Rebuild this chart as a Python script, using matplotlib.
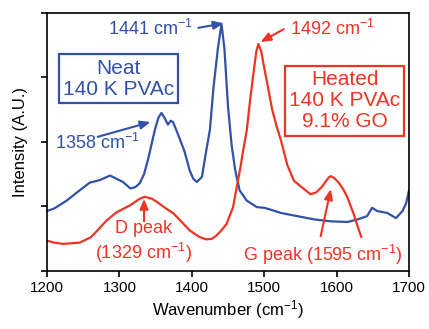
import matplotlib
matplotlib.use("Agg")
import matplotlib.pyplot as plt
import numpy as np

plt.rcParams['font.family'] = ['Liberation Sans', 'DejaVu Sans']
plt.rcParams['mathtext.fontset'] = 'custom'
plt.rcParams['mathtext.rm'] = 'Liberation Sans'
plt.rcParams['mathtext.it'] = 'Liberation Sans:italic'
plt.rcParams['mathtext.bf'] = 'Liberation Sans:bold'

BLUE = '#3251a8'
RED = '#ee3424'

# neat 140 K PVAc spectrum
wn_neat = [1200, 1210, 1227, 1245, 1259, 1273, 1287, 1296, 1305, 1315, 1322, 1328,
           1334, 1340, 1349, 1354, 1358, 1362, 1367, 1371, 1374, 1378, 1384, 1390,
           1397, 1402, 1407, 1414, 1420, 1425, 1430, 1436, 1441, 1445, 1450, 1455,
           1460, 1466, 1476, 1490, 1500, 1512, 1523, 1546, 1569, 1592, 1615, 1629,
           1642, 1649, 1656, 1670, 1682, 1691, 1696, 1700]
int_neat = [0.93, 0.97, 1.09, 1.25, 1.37, 1.41, 1.48, 1.43, 1.38, 1.28, 1.30, 1.36,
            1.50, 1.75, 2.19, 2.38, 2.45, 2.38, 2.27, 2.33, 2.31, 2.20, 2.03, 1.85,
            1.56, 1.43, 1.38, 1.46, 1.87, 2.19, 2.85, 3.45, 3.83, 3.45, 2.55, 1.95,
            1.56, 1.25, 1.09, 0.99, 0.98, 0.94, 0.90, 0.85, 0.80, 0.77, 0.76, 0.80,
            0.85, 0.98, 0.93, 0.90, 0.82, 0.93, 1.05, 1.25]

# heated 140 K PVAc / 9.1% GO spectrum
wn_heat = [1200, 1210, 1222, 1245, 1260, 1269, 1282, 1296, 1315, 1328, 1335, 1345,
           1352, 1363, 1375, 1386, 1397, 1410, 1420, 1428, 1434, 1441, 1448, 1457,
           1462, 1467, 1471, 1476, 1480, 1485, 1489, 1492, 1496, 1500, 1504, 1511,
           1517, 1523, 1532, 1541, 1555, 1564, 1572, 1580, 1589, 1592, 1597, 1603,
           1609, 1615, 1624, 1630, 1634]
int_heat = [0.47, 0.44, 0.42, 0.44, 0.52, 0.62, 0.78, 0.91, 1.02, 1.12, 1.15, 1.12,
            1.07, 0.98, 0.89, 0.76, 0.63, 0.53, 0.49, 0.50, 0.55, 0.63, 0.73, 0.99,
            1.30, 1.60, 1.87, 2.19, 2.60, 3.05, 3.40, 3.52, 3.40, 3.15, 2.92, 2.50,
            2.25, 2.03, 1.64, 1.40, 1.27, 1.19, 1.22, 1.31, 1.45, 1.47, 1.44, 1.37,
            1.27, 1.14, 0.87, 0.66, 0.53]

fig = plt.figure(figsize=(4.29, 3.29), dpi=100)
ax = fig.add_axes([0.1096, 0.1763, 0.8438, 0.7842])

ax.plot(wn_neat, int_neat, color=BLUE, lw=1.6)
ax.plot(wn_heat, int_heat, color=RED, lw=1.6)

ax.set_xlim(1200, 1700)
ax.set_ylim(0, 4)
ax.set_xticks([1200, 1300, 1400, 1500, 1600, 1700])
ax.set_yticks([0, 1, 2, 3, 4])
ax.set_yticklabels([])
ax.tick_params(direction='out', length=4, width=1.2, labelsize=11)
for s in ax.spines.values():
    s.set_linewidth(1.2)

ax.set_xlabel('Wavenumber (cm$^{-1}$)', fontsize=12, labelpad=2)
ax.set_ylabel('Intensity (A.U.)', fontsize=12, labelpad=6)

arr = dict(arrowstyle='-|>,head_length=0.6,head_width=0.25', lw=1.5, shrinkA=0, shrinkB=0)

# peak labels
ax.text(1401, 3.75, '1441 cm$^{-1}$', color=BLUE, fontsize=13, ha='right', va='center')
ax.annotate('', xy=(1444, 3.84), xytext=(1409, 3.77), arrowprops=dict(arr, color=BLUE))

ax.text(1211, 1.98, '1358 cm$^{-1}$', color=BLUE, fontsize=13, ha='left', va='center')
ax.annotate('', xy=(1343, 2.31), xytext=(1270, 2.08), arrowprops=dict(arr, color=BLUE))

ax.text(1536, 3.75, '1492 cm$^{-1}$', color=RED, fontsize=13, ha='left', va='center')
ax.annotate('', xy=(1495, 3.55), xytext=(1527, 3.75), arrowprops=dict(arr, color=RED))

ax.text(1333, 0.44, 'D peak\n(1329 cm$^{-1}$)', color=RED, fontsize=13, ha='center',
        va='center', linespacing=1.25)
ax.annotate('', xy=(1334, 1.12), xytext=(1334, 0.77), arrowprops=dict(arr, color=RED))

ax.text(1471, 0.25, 'G peak (1595 cm$^{-1}$)', color=RED, fontsize=13, ha='left', va='center')
ax.annotate('', xy=(1592, 1.27), xytext=(1578, 0.54), arrowprops=dict(arr, color=RED))

# sample boxes
ax.text(1299, 2.98, 'Neat\n140 K PVAc', color=BLUE, fontsize=15, ha='center', va='center',
        linespacing=1.15,
        bbox=dict(boxstyle='square,pad=0.2', fc='white', ec=BLUE, lw=1.6))
ax.text(1611, 2.64, 'Heated\n140 K PVAc\n9.1% GO', color=RED, fontsize=15, ha='center',
        va='center', linespacing=1.15,
        bbox=dict(boxstyle='square,pad=0.2', fc='white', ec=RED, lw=1.6))

fig.savefig('out.png', dpi=100)
